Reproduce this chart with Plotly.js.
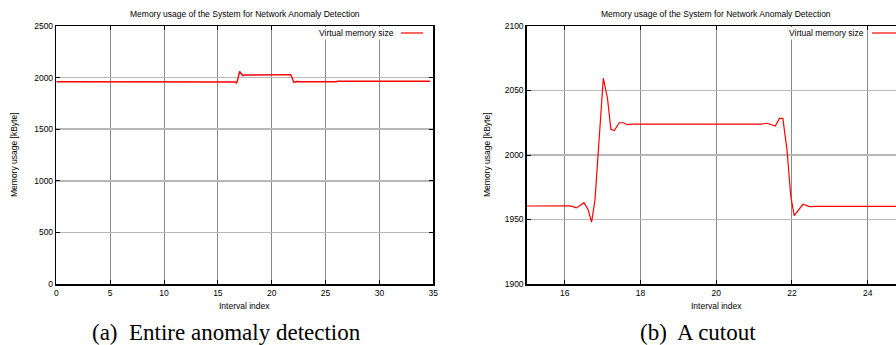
<!DOCTYPE html>
<html>
<head>
<meta charset="utf-8">
<script src="https://cdn.plot.ly/plotly-3.0.1.min.js"></script>
<style>html,body{margin:0;padding:0;background:#fff;}#chart{width:896px;height:345px;}</style>
</head>
<body>
<div id="chart"></div>
<script>
// Interval index and virtual memory size (kByte)
var intervalIndex = [0, 16.0, 16.15, 16.31, 16.51, 16.62, 16.71, 16.80, 17.02, 17.13, 17.22, 17.31, 17.44, 17.55, 17.65, 17.8, 21.2, 21.34, 21.45, 21.56, 21.67, 21.76, 21.87, 21.97, 22.06, 22.29, 22.47, 22.7, 26.0, 26.1, 34.7];
var memoryKB = [1960, 1960, 1960.5, 1959, 1963, 1957.5, 1948, 1965, 2059.5, 2044, 2020, 2019, 2025, 2025, 2023.5, 2024, 2024, 2024.6, 2023.5, 2022.5, 2028.4, 2028.4, 2004, 1968, 1953, 1961.8, 1960, 1960.2, 1960.2, 1964, 1964];
var seriesName = "Virtual memory size";
var chartTitle = "Memory usage of the System for Network Anomaly Detection";
var xTitle = "Interval index";
var yTitle = "Memory usage [kByte]";
var captions = ["(a)  Entire anomaly detection", "(b)  A cutout"];
var leftXTicks = [0, 5, 10, 15, 20, 25, 30, 35];
var leftYTicks = [0, 500, 1000, 1500, 2000, 2500];
var rightXTicks = [16, 18, 20, 22, 24];
var rightYTicks = [1900, 1950, 2000, 2050, 2100];

var W = 896, H = 345;
function px(x) { return x / W; }
function py(y) { return (H - y) / H; }

var font = {family: "Liberation Sans, Arial, sans-serif", size: 8.5, color: "#000"};
var capFont = {family: "Liberation Serif, Times New Roman, serif", size: 23, color: "#000"};
var red = "#ff0000";

var traces = [
  {x: intervalIndex, y: memoryKB, type: "scatter", mode: "lines", name: seriesName, line: {color: red, width: 1.4}, xaxis: "x", yaxis: "y", showlegend: false},
  {x: intervalIndex, y: memoryKB, type: "scatter", mode: "lines", name: seriesName, line: {color: red, width: 1.2}, xaxis: "x2", yaxis: "y2", showlegend: false}
];

var base = {showgrid: true, zeroline: false,
  showline: true, linecolor: "#000", linewidth: 1.5, ticks: "inside", ticklen: 4, tickcolor: "#000",
  tickfont: font};
var xGrid = {gridcolor: "#8a8a8a", gridwidth: 1, griddash: "solid"};
var yGrid = {gridcolor: "#b8b8b8", gridwidth: 1.5, griddash: "solid"};

var yDom = [py(284), py(26)];

var layout = {
  width: W, height: H,
  margin: {l: 0, r: 0, t: 0, b: 0},
  paper_bgcolor: "#fff", plot_bgcolor: "#fff",
  showlegend: false,
  xaxis: Object.assign({}, base, xGrid, {domain: [px(56.3), px(433.3)], range: [0, 35], tickvals: leftXTicks, mirror: "allticks", anchor: "y"}),
  yaxis: Object.assign({}, base, yGrid, {domain: yDom, range: [0, 2500], tickvals: leftYTicks, mirror: "allticks", anchor: "x"}),
  xaxis2: Object.assign({}, base, xGrid, {domain: [px(526.8), 1], range: [15, 15 + (896 - 526.8) / 37.875], tickvals: rightXTicks, mirror: "allticks", anchor: "y2"}),
  yaxis2: Object.assign({}, base, yGrid, {domain: yDom, range: [1900, 2100], tickvals: rightYTicks, mirror: false, anchor: "x2"}),
  annotations: [
    {text: chartTitle, xref: "x", yref: "paper", x: 17.5, y: py(14), showarrow: false, font: font, xanchor: "center", yanchor: "middle"},
    {text: chartTitle, xref: "x2", yref: "paper", x: 20, y: py(14), showarrow: false, font: font, xanchor: "center", yanchor: "middle"},
    {text: xTitle, xref: "x", yref: "paper", x: 17.5, y: py(305.5), showarrow: false, font: font, xanchor: "center", yanchor: "middle"},
    {text: xTitle, xref: "x2", yref: "paper", x: 20, y: py(305.5), showarrow: false, font: font, xanchor: "center", yanchor: "middle"},
    {text: yTitle, xref: "paper", yref: "paper", x: px(14), y: py(155), textangle: -90, showarrow: false, font: font, xanchor: "center", yanchor: "middle"},
    {text: yTitle, xref: "paper", yref: "paper", x: px(487), y: py(155), textangle: -90, showarrow: false, font: font, xanchor: "center", yanchor: "middle"},
    {text: seriesName, xref: "paper", yref: "paper", x: px(396), y: py(33), showarrow: false, font: font, xanchor: "right", yanchor: "middle", bgcolor: "#fff"},
    {text: seriesName, xref: "paper", yref: "paper", x: px(866), y: py(33), showarrow: false, font: font, xanchor: "right", yanchor: "middle", bgcolor: "#fff"},
    {text: captions[0], xref: "paper", yref: "paper", x: px(226), y: py(332), showarrow: false, font: capFont, xanchor: "center", yanchor: "middle"},
    {text: captions[1], xref: "paper", yref: "paper", x: px(698), y: py(332), showarrow: false, font: capFont, xanchor: "center", yanchor: "middle"}
  ],
  shapes: [
    {type: "line", xref: "paper", yref: "paper", x0: px(401), x1: px(423), y0: py(33), y1: py(33), line: {color: red, width: 1.2}},
    {type: "line", xref: "paper", yref: "paper", x0: px(872), x1: 1, y0: py(33), y1: py(33), line: {color: red, width: 1.2}}
  ]
};

Plotly.newPlot("chart", traces, layout, {staticPlot: true, displayModeBar: false});
</script>
</body>
</html>
